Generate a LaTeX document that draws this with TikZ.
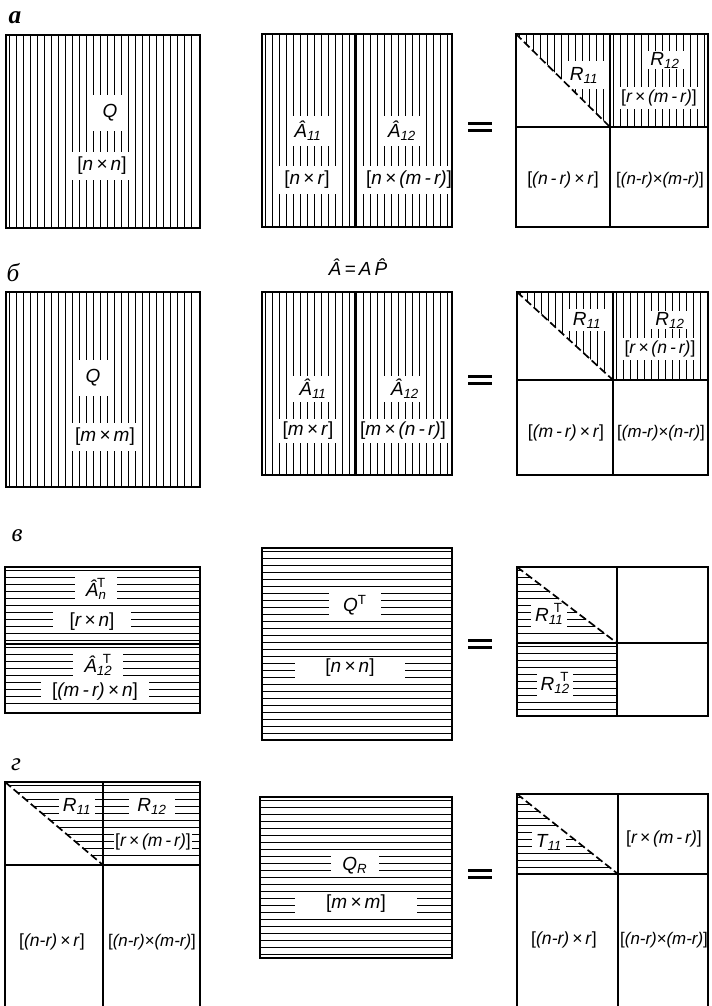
\documentclass[tikz,border=0pt]{standalone}
\usepackage{fontspec}
\setmainfont{Liberation Sans}
\newfontfamily\panelfont{Liberation Serif}

% hatching of a box: x0, y0, x1, y1 (pixel units)
\newcommand{\vhatch}[4]{%
  \pgfmathtruncatemacro{\nh}{(#3-#1)/7}%
  \foreach \i in {1,...,\nh}
    \draw[hatch] ({#1+7*\i-3.5},#2) -- ({#1+7*\i-3.5},#4);%
}
\newcommand{\hhatch}[4]{%
  \pgfmathtruncatemacro{\nh}{(#4-#2)/7}%
  \foreach \i in {1,...,\nh}
    \draw[hatch] (#1,{#2+7*\i-3.5}) -- (#3,{#2+7*\i-3.5});%
}
\newcommand{\dims}[1]{\textup{[}#1\textup{]}}
\newcommand{\supsub}[2]{\textsubscript{#2}\kern-0.5em\raisebox{1.5pt}{\textsuperscript{\upshape #1}}}

\begin{document}
\begin{tikzpicture}[x=0.025cm, y=-0.025cm,
    frame/.style={line width=1.8pt},
    divider/.style={line width=1.5pt},
    hatch/.style={line width=1.05pt},
    diag/.style={line width=1.2pt, dash pattern=on 5.5pt off 2.5pt},
    eqbar/.style={line width=1.8pt},
    lbl/.style={fill=white, font=\fontsize{13.5}{15}\selectfont\itshape},
    vlbl/.style={lbl, inner xsep=5pt, inner ysep=4pt},
    hlbl/.style={lbl, inner xsep=8pt, inner ysep=1.5pt},
    tight/.style={lbl, font=\fontsize{12.5}{14}\selectfont\itshape, inner xsep=1pt, inner ysep=2pt},
    tighter/.style={tight, font=\fontsize{12}{14}\selectfont\itshape, inner xsep=0.5pt},
    panel/.style={font=\fontsize{18}{20}\selectfont\panelfont\itshape}]
  \useasboundingbox (0,0) rectangle (711,1006);

  % ---------- а ----------
  \node[panel] (pa) at (15,18) {\bfseries а};
  \vhatch{6}{35}{200}{228}
  \node[vlbl, inner sep=7pt] (qa) at (110,113) {Q};
  \node[vlbl] (qadim) at (102,166) {\dims{n\,×\,n}};
  \draw[frame] (6,35) rectangle (200,228);

  \vhatch{262}{34}{452}{227}
  \node[vlbl] (aa11) at (308,131) {Â\textsubscript{11}};
  \node[vlbl] (aa11dim) at (307,180) {\dims{n\,×\,r}};
  \node[vlbl] (aa12) at (402,131) {Â\textsubscript{12}};
  \node[vlbl, inner xsep=3pt] (aa12dim) at (409,180) {\dims{n\,×\,(m\,-\,r)}};
  \draw[frame] (262,34) rectangle (452,227);
  \draw[divider] (355,34) -- (355,227);

  \draw[eqbar] (468,123.5) -- (492,123.5) (468,130.5) -- (492,130.5);

  \begin{scope}
    \clip (516,34) -- (610,34) -- (610,127) -- cycle;
    \vhatch{516}{34}{610}{127}
  \end{scope}
  \vhatch{610}{34}{708}{127}
  \node[vlbl] (ra11) at (584,75) {R\textsubscript{11}};
  \node[vlbl, inner ysep=1pt] (ra12) at (665,60) {R\textsubscript{12}};
  \node[tight] (ra12dim) at (659,98) {\dims{r\,×\,(m\,-\,r)}};
  \node[tight] (ra21dim) at (563,180) {\dims{(n\,-\,r)\,×\,r}};
  \node[tighter] (ra22dim) at (660,180) {\dims{(n-r)×(m-r)}};
  \draw[frame] (516,34) rectangle (708,227);
  \draw[divider] (516,127) -- (708,127) (610,34) -- (610,227);
  \draw[diag] (516,34) -- (610,127);

  % ---------- б ----------
  \node[panel] (pb) at (13,273) {б};
  \vhatch{6}{292}{200}{487}
  \node[vlbl, inner sep=7pt] (qb) at (93,378) {Q};
  \node[vlbl] (qbdim) at (105,437) {\dims{m\,×\,m}};
  \draw[frame] (6,292) rectangle (200,487);

  \node[font=\fontsize{13.5}{15}\selectfont\itshape] (perm) at (358,267) {Â\,=\,A\,\^{P}};
  \vhatch{262}{292}{452}{475}
  \node[vlbl, inner ysep=2pt] (ab11) at (313,389) {Â\textsubscript{11}};
  \node[vlbl, inner ysep=2pt] (ab11dim) at (308,431) {\dims{m\,×\,r}};
  \node[vlbl, inner ysep=2pt] (ab12) at (405,389) {Â\textsubscript{12}};
  \node[vlbl, inner ysep=2pt, inner xsep=2pt] (ab12dim) at (403,431) {\dims{m\,×\,(n\,-\,r)}};
  \draw[frame] (262,292) rectangle (452,475);
  \draw[divider] (355,292) -- (355,475);

  \draw[eqbar] (468,376.5) -- (492,376.5) (468,383.5) -- (492,383.5);

  \begin{scope}
    \clip (517,292) -- (613,292) -- (613,380) -- cycle;
    \vhatch{517}{292}{613}{380}
  \end{scope}
  \vhatch{613}{292}{708}{380}
  \node[vlbl, inner ysep=2pt] (rb11) at (587,320) {R\textsubscript{11}};
  \node[vlbl, inner ysep=1pt] (rb12) at (670,320) {R\textsubscript{12}};
  \node[tight] (rb12dim) at (660,349) {\dims{r\,×\,(n\,-\,r)}};
  \node[tight] (rb21dim) at (566,433) {\dims{(m\,-\,r)\,×\,r}};
  \node[tighter] (rb22dim) at (661,433) {\dims{(m-r)×(n-r)}};
  \draw[frame] (517,292) rectangle (708,475);
  \draw[divider] (517,380) -- (708,380) (613,292) -- (613,475);
  \draw[diag] (517,292) -- (613,380);

  % ---------- в ----------
  \node[panel] (pv) at (17,536) {в};
  \hhatch{5}{567}{200}{713}
  \node[hlbl] (atn) at (96,589) {Â\supsub{T}{n}};
  \node[hlbl, inner xsep=12pt] (atndim) at (92,622) {\dims{r\,×\,n}};
  \node[hlbl] (at12) at (98,665) {Â\supsub{T}{12}};
  \node[hlbl] (at12dim) at (95,692) {\dims{(m\,-\,r)\,×\,n}};
  \draw[frame] (5,567) rectangle (200,713);
  \draw[divider] (5,644) -- (200,644);

  \hhatch{262}{548}{452}{740}
  \node[hlbl, inner xsep=10pt] (qt) at (355,605) {Q\textsuperscript{\upshape T}};
  \node[hlbl, inner xsep=22pt] (qtdim) at (350,668) {\dims{n\,×\,n}};
  \draw[frame] (262,548) rectangle (452,740);

  \draw[eqbar] (468,640.5) -- (492,640.5) (468,647.5) -- (492,647.5);

  \begin{scope}
    \clip (517,567) -- (617,643) -- (517,643) -- cycle;
    \hhatch{517}{567}{617}{643}
  \end{scope}
  \hhatch{517}{643}{617}{716}
  \node[hlbl, inner xsep=3pt] (rt11) at (549,614) {R\supsub{T}{11}};
  \node[hlbl, inner xsep=3pt] (rt12) at (555,683) {R\supsub{T}{12}};
  \draw[frame] (517,567) rectangle (708,716);
  \draw[divider] (517,643) -- (708,643) (617,567) -- (617,716);
  \draw[diag] (517,567) -- (617,643);

  % ---------- г ----------
  \node[panel] (pg) at (16,765) {г};
  \begin{scope}
    \clip (5,782) -- (103,782) -- (103,865) -- cycle;
    \hhatch{5}{782}{103}{865}
  \end{scope}
  \hhatch{103}{782}{200}{865}
  \node[hlbl, inner xsep=3pt] (rg11) at (77,806) {R\textsubscript{11}};
  \node[hlbl, inner xsep=6pt] (rg12) at (152,806) {R\textsubscript{12}};
  \node[tight] (rg12dim) at (153,842) {\dims{r\,×\,(m\,-\,r)}};
  \node[tight] (rg21dim) at (52,942) {\dims{(n-r)\,×\,r}};
  \node[tighter] (rg22dim) at (152,942) {\dims{(n-r)×(m-r)}};
  \draw[frame] (5,1006) -- (5,782) -- (200,782) -- (200,1006);
  \draw[divider] (5,865) -- (200,865) (103,782) -- (103,1006);
  \draw[diag] (5,782) -- (103,865);

  \hhatch{260}{797}{452}{958}
  \node[hlbl, inner xsep=8pt] (qr) at (355,866) {Q\textsubscript{R}};
  \node[hlbl, inner xsep=22pt] (qrdim) at (356,904) {\dims{m\,×\,m}};
  \draw[frame] (260,797) rectangle (452,958);

  \draw[eqbar] (468,870.5) -- (492,870.5) (468,877.5) -- (492,877.5);

  \begin{scope}
    \clip (517,794) -- (618,874) -- (517,874) -- cycle;
    \hhatch{517}{794}{618}{874}
  \end{scope}
  \node[hlbl, inner xsep=3pt] (tg11) at (549,842) {T\textsubscript{11}};
  \node[tight] (tg12dim) at (664,839) {\dims{r\,×\,(m\,-\,r)}};
  \node[tight] (tg21dim) at (564,940) {\dims{(n-r)\,×\,r}};
  \node[tighter] (tg22dim) at (664,940) {\dims{(n-r)×(m-r)}};
  \draw[frame] (517,1006) -- (517,794) -- (708,794) -- (708,1006);
  \draw[divider] (517,874) -- (708,874) (618,794) -- (618,1006);
  \draw[diag] (517,794) -- (618,874);
\end{tikzpicture}
\end{document}
